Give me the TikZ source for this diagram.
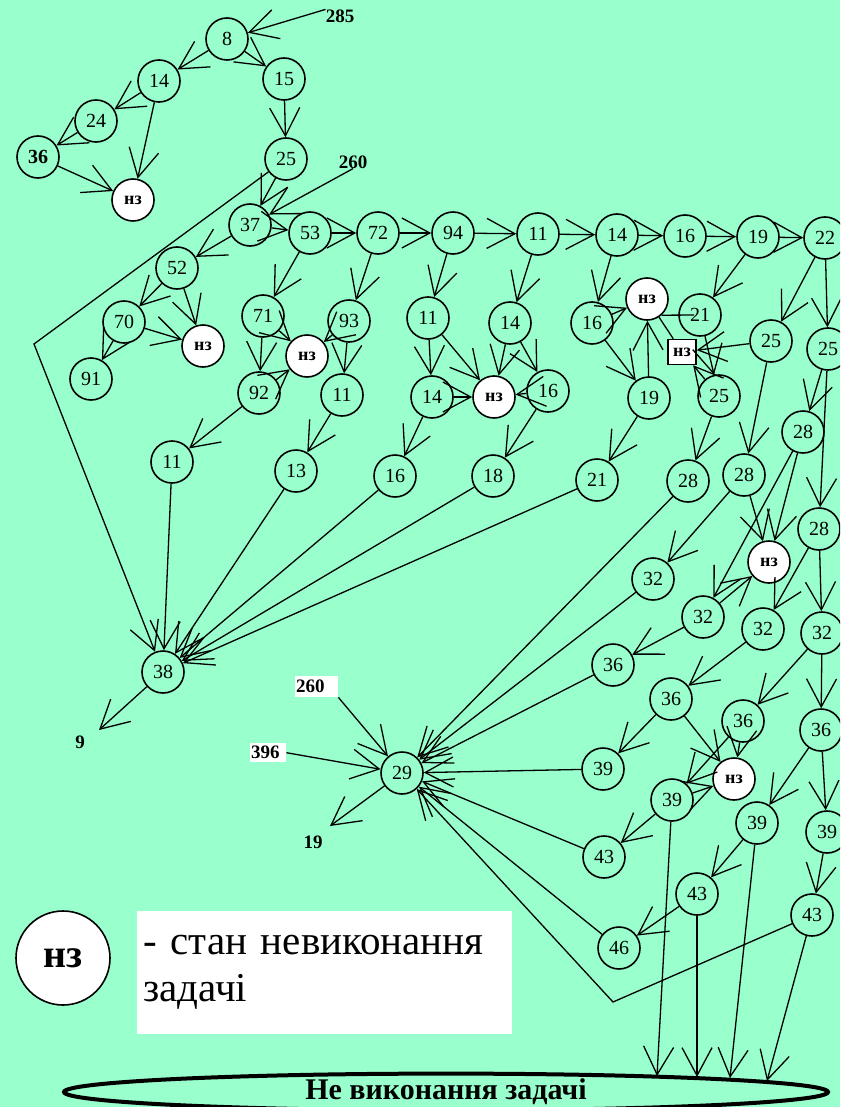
\documentclass[tikz,border=0pt]{standalone}
\usepackage{fontspec}
\setmainfont{Liberation Serif}
\usetikzlibrary{arrows.meta,shapes.geometric}
\definecolor{mint}{RGB}{153,255,204}
\newcommand{\numf}{\fontsize{20}{22}\selectfont}
\newcommand{\nzf}{\fontsize{18}{20}\selectfont\bfseries}
\newcommand{\lblf}{\fontsize{19}{21}\selectfont\bfseries}

\begin{document}
\begin{tikzpicture}[x=1pt,y=-1pt,
    st/.style={circle,draw,line width=1.6pt,minimum size=42pt,inner sep=0pt,font=\numf},
    nz/.style={st,fill=white,font=\nzf},
    lbl/.style={inner sep=0pt,font=\lblf},
    wlbl/.style={lbl,fill=white,anchor=north west,text width=41pt,align=left,inner xsep=1pt,minimum height=21pt},
    ed/.style={-{Straight Barb[length=28pt,width=30pt]},line width=1.3pt},
    ln/.style={line width=1.3pt}]
    \useasboundingbox (0,0) rectangle (840,1107);
    \clip (0,0) rectangle (840,1107);
    \fill[mint] (0,0) rectangle (840,1107);

    \node[lbl] (l285) at (340,16) {285};
    \node[lbl] (l260) at (353,162) {260};
    \node[st] (a8) at (227,39) {8};
    \node[st] (a14) at (159,81) {14};
    \node[st] (a15) at (284,79) {15};
    \node[st] (a24) at (96,121) {24};
    \node[st,font=\numf\bfseries] (a36) at (38,157) {36};
    \node[nz] (z1) at (133,200) {нз};
    \node[st] (a25) at (286,159) {25};
    \node[st] (a37) at (250,225) {37};
    \node[st] (a52) at (177,268) {52};
    \node[st] (a70) at (124,322) {70};
    \node[nz] (z2) at (203,346) {нз};
    \node[st] (a91) at (91,379) {91};
    \node[st] (a53) at (310,233) {53};
    \node[st] (a72) at (378,233) {72};
    \node[st] (a94) at (453,233) {94};
    \node[st] (b11) at (538,234) {11};
    \node[st] (b14) at (617,235) {14};
    \node[st] (b16) at (685,236) {16};
    \node[st] (b19) at (758,237) {19};
    \node[st] (b22) at (825,238) {22};
    \node[st] (a71) at (263,316) {71};
    \node[st] (a93) at (349,321) {93};
    \node[nz] (z3) at (307,356) {нз};
    \node[st] (a92) at (259,393) {92};
    \node[st] (c11) at (342,395) {11};
    \node[st] (d11) at (172,462) {11};
    \node[st] (c13) at (296,471) {13};
    \node[st] (e11) at (428,318) {11};
    \node[st] (e14) at (432,397) {14};
    \node[st] (e16) at (395,476) {16};
    \node[st] (f14) at (510,323) {14};
    \node[nz] (z4) at (494,397) {нз};
    \node[st] (f16) at (548,391) {16};
    \node[st] (f18) at (493,476) {18};
    \node[st] (g16) at (592,323) {16};
    \node[nz] (z5) at (647,299) {нз};
    \node[st] (g21) at (700,315) {21};
    \node[draw,fill=white,line width=1.6pt,minimum width=28pt,minimum height=25pt,inner sep=0pt,font=\nzf] (q1) at (682,352) {нз};
    \node[st] (g25) at (771,341) {25};
    \node[st] (h25) at (828,349) {25};
    \node[st] (g19) at (649,398) {19};
    \node[st] (i25) at (719,396) {25};
    \node[st] (k21) at (597,480) {21};
    \node[st] (k28) at (688,481) {28};
    \node[st] (l28) at (744,475) {28};
    \node[st] (m28) at (803,432) {28};
    \node[st] (n28) at (819,529) {28};
    \node[nz] (z6) at (769,562) {нз};
    \node[st] (k32) at (653,579) {32};
    \node[st] (l32) at (703,617) {32};
    \node[st] (m32) at (763,629) {32};
    \node[st] (n32) at (822,633) {32};
    \node[st] (k36) at (613,665) {36};
    \node[st] (l36) at (671,699) {36};
    \node[st] (m36) at (743,721) {36};
    \node[st] (n36) at (821,730) {36};
    \node[nz] (z7) at (734,779) {нз};
    \node[st] (k39) at (603,769) {39};
    \node[st] (l39) at (672,800) {39};
    \node[st] (m39) at (757,823) {39};
    \node[st] (n39) at (827,832) {39};
    \node[st] (k43) at (604,857) {43};
    \node[st] (l43) at (697,894) {43};
    \node[st] (m43) at (812,915) {43};
    \node[st] (k46) at (619,948) {46};
    \node[st] (a38) at (163,672) {38};
    \node[st] (a29) at (402,773) {29};
    \node[wlbl] (l260b) at (295,676) {260};
    \node[wlbl,text width=34pt,minimum height=19pt] (l396) at (250,743) {396};
    \node[lbl] (l9) at (80,742) {9};
    \node[lbl] (l19) at (313,842) {19};
    \node[circle,draw,fill=white,line width=1.6pt,minimum size=94pt,inner sep=0pt,font=\fontsize{40}{44}\selectfont\bfseries] (zl) at (63,958) {нз};
    \node[fill=white,anchor=north west,minimum width=375pt,minimum height=123pt,text width=363pt,align=left,inner xsep=6pt,font=\fontsize{41}{47}\selectfont] (leg) at (137,911) {- стан невиконання\\задачі};
    \node[ellipse,draw,line width=4pt,minimum width=764pt,minimum height=33pt,inner sep=0pt,font=\fontsize{30}{30}\selectfont\bfseries] (ne) at (446,1092) {\raisebox{-3pt}{Не виконання задачі}};

    \coordinate (c1) at (34,344);
    \coordinate (c2) at (613,1002);
    \coordinate (c9) at (99,730);
    \coordinate (c19) at (330,826);
    \coordinate (e1) at (657,1076);
    \coordinate (e2) at (697,1077);
    \coordinate (e3) at (730,1078);
    \coordinate (e4) at (767,1081);

    \draw [ed] (l285.north west) to (a8);
    \draw [ed] (a8) to (a14);
    \draw [ed] (a8) to (a15);
    \draw [ed] (a14) to (a24);
    \draw [ed] (a14) to (z1);
    \draw [ed] (a24) to (a36);
    \draw [ed] (a36) to (z1);
    \draw [ed] (a15) to (a25);
    \draw [ed] (a25) to (a37);
    \draw [ed] (l260.south) to (a37);
    \draw [ed] (a37) to (a53);
    \draw [ed] (a37) to (a52);
    \draw [ed] (a25) -- (c1) -- (a38);
    \draw [ed] (a53) to (a72);
    \draw [ed] (a72) to (a94);
    \draw [ed] (a94) to (b11);
    \draw [ed] (b11) to (b14);
    \draw [ed] (b14) to (b16);
    \draw [ed] (b16) to (b19);
    \draw [ed] (b19) to (b22);
    \draw [ed] (a53) to (a71);
    \draw [ed] (a72) to (a93);
    \draw [ed] (a94) to (e11);
    \draw [ed] (b11) to (f14);
    \draw [ed] (b14) to (g16);
    \draw [ed] (b19) to (g21);
    \draw [ed] (b22) to (g25);
    \draw [ed] (b22) to (h25);
    \draw [ed] (a52) to (a70);
    \draw [ed] (a52) to (z2);
    \draw [ed] (a70) to (z2);
    \draw [ed] (a70) to (a91);
    \draw [ed] (a71) to (z3);
    \draw [ed] (a93) to (z3);
    \draw [ed] (a71) to (a92);
    \draw [ed] (a92) to (z3);
    \draw [ed] (a92) to (d11);
    \draw [ed] (a93) to (c11);
    \draw [ed] (c11) to (c13);
    \draw [ed] (e11) to (e14);
    \draw [ed] (e11) to (z4);
    \draw [ed] (e14) to (z4);
    \draw [ed] (e14) to (e16);
    \draw [ed] (f14) to (z4);
    \draw [ed] (f14) to (f16);
    \draw [ed] (f16) to (z4);
    \draw [ed] (f16) to (f18);
    \draw [ed] (d11) to (a38);
    \draw [ed] (c13) to (a38);
    \draw [ed] (e16) to (a38);
    \draw [ed] (f18) to (a38);
    \draw [ed] (k21) to (a38);
    \draw [ed] (g16) to (z5);
    \draw [ed] (g16) to (g19);
    \draw [ed] (g19) to (z5);
    \draw [ln,shorten >=6pt] (z5.-48) -- (g21.center);
    \draw [ln] (z5) to (q1);
    \draw [ed] (g25) to (q1);
    \draw [ed] (i25) to (q1);
    \draw [ed] (g21) to (i25);
    \draw [ed] (g19) to (k21);
    \draw [ed] (i25) to (k28);
    \draw [ed] (g25) to (l28);
    \draw [ed] (h25) to (m28);
    \draw [ed] (h25) to (n28);
    \draw [ed] (m28) to (z6);
    \draw [ed] (m28) to (l32);
    \draw [ed] (l28) to (z6);
    \draw [ed] (l28) to (k32);
    \draw [ed] (n28) to (m32);
    \draw [ed] (n28) to (n32);
    \draw [ed] (l32) to (z6);
    \draw [ed] (l32) to (k36);
    \draw [ed] (m32) to (l36);
    \draw [ed] (n32) to (m36);
    \draw [ed] (n32) to (n36);
    \draw [ed] (l36) to (k39);
    \draw [ed] (l36) to (z7);
    \draw [ed] (m36) to (z7);
    \draw [ed] (m36) to (l39);
    \draw [ed] (l39) to (z7);
    \draw [ed] (n36) to (m39);
    \draw [ed] (n36) to (n39);
    \draw [ed] (l39) to (k43);
    \draw [ed] (m39) to (l43);
    \draw [ed] (n39) to (m43);
    \draw [ed] (l43) to (k46);
    \draw [ed] (k28) to (a29);
    \draw [ed] (k32) to (a29);
    \draw [ed] (k36) to (a29);
    \draw [ed] (k39) to (a29);
    \draw [ed] (k43) to (a29);
    \draw [ed] (k46) to (a29);
    \draw [ed] (m43) -- (c2) -- (a29);
    \draw [ed] (l260b.south east) to (a29);
    \draw [ed] (l396.east) to (a29);
    \draw [ed] (a29) to (c19);
    \draw [ed] (a38) to (c9);
    \draw [ed] (l39) to (e1);
    \draw [ed] (l43) to (e2);
    \draw [ed] (m39) to (e3);
    \draw [ed] (m43) to (e4);
\end{tikzpicture}
\end{document}
